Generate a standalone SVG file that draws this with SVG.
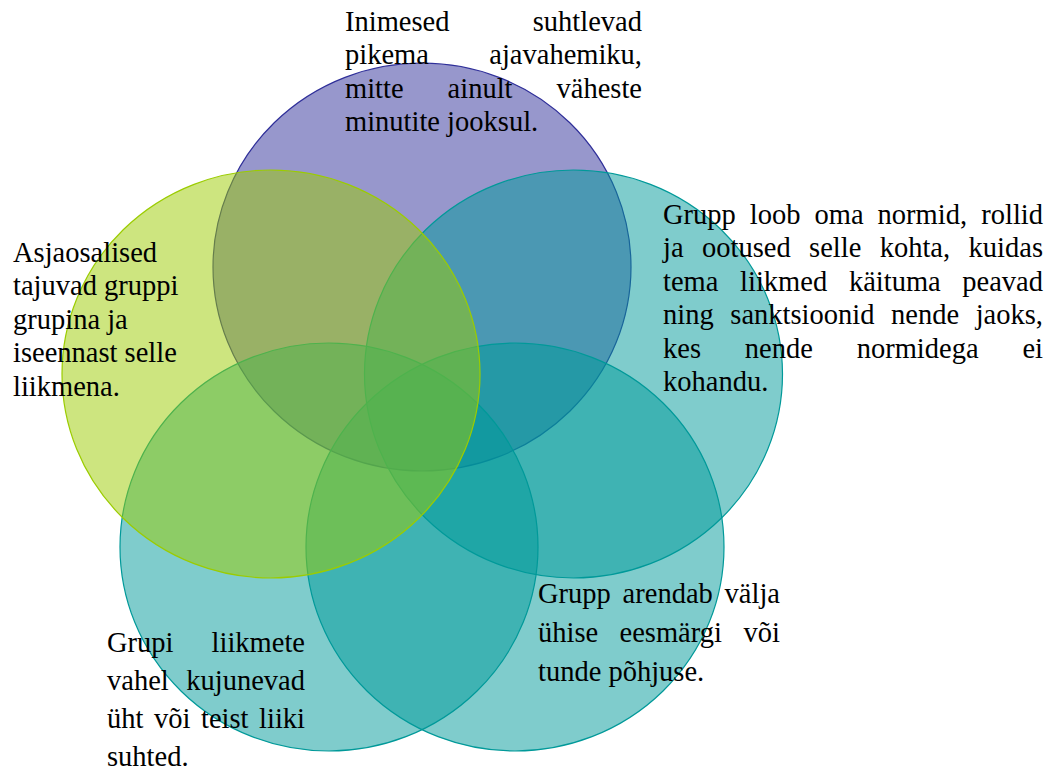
<svg xmlns="http://www.w3.org/2000/svg" width="1056" height="771" viewBox="0 0 1056 771">
<style>
.c{stroke-width:1.2;fill-opacity:0.5}
.t text{font-family:'Liberation Serif','DejaVu Serif',serif;font-size:28.5px;fill:#000}
.e{text-anchor:end}
</style>
<rect width="1056" height="771" fill="#fff"/>
<g id="circles">
<g id="c-top"><ellipse class="c" cx="422" cy="267" rx="209" ry="204" fill="#2f2f99" stroke="#2f2f99"/></g>
<g id="c-right"><ellipse class="c" cx="573.5" cy="374" rx="209" ry="204" fill="#009999" stroke="#009999"/></g>
<g id="c-bottomright"><ellipse class="c" cx="515" cy="547" rx="209" ry="204" fill="#009999" stroke="#009999"/></g>
<g id="c-bottomleft"><ellipse class="c" cx="329" cy="547" rx="209" ry="204" fill="#009999" stroke="#009999"/></g>
<g id="c-left"><ellipse class="c" cx="271" cy="374" rx="209" ry="204" fill="#9bcc00" stroke="#9bcc00"/></g>
</g>
<g id="connectors"></g>
<g id="label-top" class="t" font-family="Liberation Serif, serif">
<text x="345" y="31">Inimesed</text><text class="e" x="642" y="31">suhtlevad</text>
<text x="345" y="64.4">pikema</text><text class="e" x="642" y="64.4">ajavahemiku,</text>
<text x="345" y="97.8">mitte</text><text x="447.6" y="97.8">ainult</text><text class="e" x="642" y="97.8">väheste</text>
<text x="345" y="131.2">minutite jooksul.</text>
</g>
<g id="label-right" class="t">
<text x="663" y="224">Grupp</text><text x="749.8" y="224">loob</text><text x="814.5" y="224">oma</text><text x="877.6" y="224">normid,</text><text class="e" x="1043" y="224">rollid</text>
<text x="663" y="257.4">ja</text><text x="702" y="257.4">ootused</text><text x="809.1" y="257.4">selle</text><text x="879.7" y="257.4">kohta,</text><text class="e" x="1043" y="257.4">kuidas</text>
<text x="663" y="290.8">tema</text><text x="740.1" y="290.8">liikmed</text><text x="848.9" y="290.8">käituma</text><text class="e" x="1043" y="290.8">peavad</text>
<text x="663" y="324.2">ning</text><text x="730.3" y="324.2">sanktsioonid</text><text x="891" y="324.2">nende</text><text class="e" x="1043" y="324.2">jaoks,</text>
<text x="663" y="357.6">kes</text><text x="744.8" y="357.6">nende</text><text x="856.7" y="357.6">normidega</text><text class="e" x="1043" y="357.6">ei</text>
<text x="663" y="391">kohandu.</text>
</g>
<g id="label-bottomright" class="t">
<text x="538" y="603">Grupp</text><text x="622.6" y="603">arendab</text><text class="e" x="780" y="603">välja</text>
<text x="538" y="642">ühise</text><text x="619.5" y="642">eesmärgi</text><text class="e" x="780" y="642">või</text>
<text x="538" y="681">tunde põhjuse.</text>
</g>
<g id="label-bottomleft" class="t">
<text x="107" y="651.5">Grupi</text><text class="e" x="305" y="651.5">liikmete</text>
<text x="107" y="689.8">vahel</text><text class="e" x="305" y="689.8">kujunevad</text>
<text x="107" y="728.1">üht</text><text x="154" y="728.1">või</text><text x="201" y="728.1">teist</text><text class="e" x="305" y="728.1">liiki</text>
<text x="107" y="766.4">suhted.</text>
</g>
<g id="label-left" class="t">
<text x="13" y="262">Asjaosalised</text>
<text x="13" y="295.4">tajuvad gruppi</text>
<text x="13" y="328.8">grupina ja</text>
<text x="13" y="362.2">iseennast selle</text>
<text x="13" y="395.6">liikmena.</text>
</g>
</svg>
